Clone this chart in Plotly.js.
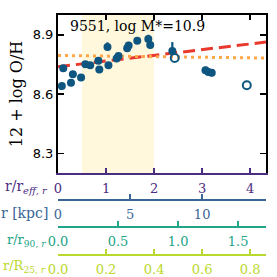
<!DOCTYPE html>
<html>
<head>
<meta charset="utf-8">
<script src="https://cdn.plot.ly/plotly-3.0.1.min.js"></script>
<style>html,body{margin:0;padding:0;background:#fff;}#chart{width:277px;height:277px;}</style>
</head>
<body>
<div id="chart"></div>
<script>
// radius in units of r_eff
const radius = [0.08, 0.11, 0.27, 0.31, 0.48, 0.57, 0.67, 0.84, 0.86, 1.03, 1.05, 1.22, 1.26, 1.44, 1.47, 1.65, 1.88, 1.92, 2.38, 3.07, 3.13, 3.20];
const oh = [8.640, 8.731, 8.657, 8.700, 8.683, 8.751, 8.745, 8.768, 8.724, 8.838, 8.745, 8.780, 8.792, 8.832, 8.846, 8.870, 8.878, 8.848, 8.818, 8.720, 8.712, 8.707];
const ohErrUp = [0.012, 0.012, 0.012, 0.012, 0.012, 0.012, 0.012, 0.015, 0.012, 0.024, 0.012, 0.016, 0.016, 0.018, 0.018, 0.015, 0.022, 0.016, 0.045, 0.018, 0.018, 0.018];
const ohErrDown = [0.012, 0.012, 0.012, 0.012, 0.012, 0.012, 0.012, 0.015, 0.012, 0.018, 0.012, 0.016, 0.016, 0.018, 0.018, 0.015, 0.018, 0.016, 0.015, 0.018, 0.018, 0.018];
const openRadius = [2.43, 3.93];
const openOh = [8.782, 8.644];
const fitX = [0, 4.33];
const fitY = [8.738, 8.863];
const meanX = [0, 4.33];
const meanY = [8.795, 8.782];
const bandX = [0.5, 2.0];
const xMax = 4.33;
const reffKpc = 3.333;
const r90Reff = 2.5;
const r25Reff = 5.0;
const galaxyLabel = '9551, log M*=10.9';

const cPurple = '#4b2d7f', cBlue = '#3a6696', cTeal = '#22a487', cLime = '#b9d92c';
const cPt = '#0e5680';
const serif = '"DejaVu Serif", serif';
const H = 277, T = 15;
const ph = H - T;
const pos = ypx => (H - ypx) / ph;

const traces = [
  {x: fitX, y: fitY, mode: 'lines', line: {color: '#e8392c', width: 3, dash: '12px,6px'}, hoverinfo: 'skip', showlegend: false},
  {x: meanX, y: meanY, mode: 'lines', line: {color: '#ffa54a', width: 3, dash: '3px,4px'}, hoverinfo: 'skip', showlegend: false},
  {x: radius, y: oh, mode: 'markers', marker: {color: cPt, size: 8},
   error_y: {type: 'data', symmetric: false, array: ohErrUp, arrayminus: ohErrDown, color: cPt, thickness: 2.2, width: 0}, showlegend: false},
  {x: openRadius, y: openOh, mode: 'markers', marker: {color: cPt, size: 8, symbol: 'circle-open', line: {width: 2, color: cPt}}, showlegend: false},
  {x: [], y: [], xaxis: 'x2', yaxis: 'y', showlegend: false},
  {x: [], y: [], xaxis: 'x3', yaxis: 'y', showlegend: false},
  {x: [], y: [], xaxis: 'x4', yaxis: 'y', showlegend: false},
  {x: [], y: [], xaxis: 'x5', yaxis: 'y', showlegend: false}
];

function freeAxis(range, dtick, color, position, fmt) {
  return {range: range, dtick: dtick, tick0: 0, anchor: 'free', overlaying: 'x', position: position, side: 'bottom',
    showline: true, linecolor: color, linewidth: 2, ticks: 'inside', ticklen: 5, tickwidth: 2, tickcolor: color,
    showgrid: false, zeroline: false, tickformat: fmt, ticklabelstandoff: 2,
    tickfont: {family: serif, size: 13, color: color}};
}

const layout = {
  width: 277, height: 277,
  margin: {l: 58, r: 11, t: T, b: 0},
  paper_bgcolor: '#fff', plot_bgcolor: '#fff',
  showlegend: false,
  xaxis: {range: [0, xMax], dtick: 1, tick0: 0, showline: true, linecolor: cPurple, linewidth: 2,
    ticks: 'inside', ticklen: 5, tickwidth: 2, tickcolor: cPurple, showgrid: false, zeroline: false,
    tickfont: {family: serif, size: 13, color: cPurple}, anchor: 'y', ticklabelstandoff: 2},
  xaxis2: freeAxis([0, xMax * reffKpc], 5, cBlue, pos(200), ''),
  xaxis3: freeAxis([0, xMax / r90Reff], 0.5, cTeal, pos(227), '.1f'),
  xaxis4: freeAxis([0, xMax / r25Reff], 0.2, cLime, pos(255), '.1f'),
  xaxis5: {range: [0, xMax], dtick: 1, tick0: 0, overlaying: 'x', side: 'top', anchor: 'y', showline: true,
    linecolor: '#000', linewidth: 2, ticks: 'inside', ticklen: 5, tickwidth: 1.5, tickcolor: '#000',
    showticklabels: false, showgrid: false, zeroline: false},
  yaxis: {domain: [pos(173), 1], range: [8.2, 9.0], dtick: 0.3, tick0: 8.3, tickformat: '.1f',
    showline: true, linecolor: '#000', linewidth: 2, mirror: 'ticks', ticks: 'inside', ticklen: 6, tickwidth: 1.5,
    tickcolor: '#000', showgrid: false, zeroline: false,
    tickfont: {family: 'DejaVu Sans', size: 13, color: '#000'},
    title: {text: '12 + log O/H', font: {family: serif, size: 16, color: '#000'}, standoff: 6}},
  shapes: [
    {type: 'rect', xref: 'x', yref: 'y domain', x0: bandX[0], x1: bandX[1], y0: 0, y1: 1,
     fillcolor: '#fff8dd', line: {width: 0}, layer: 'below'}
  ],
  annotations: [
    {text: galaxyLabel, xref: 'paper', yref: 'paper', x: 0.05, y: pos(26), xanchor: 'left', yanchor: 'middle',
     showarrow: false, font: {family: serif, size: 14, color: '#000'}},
    {text: 'r/r<sub><i>eff, r</i></sub>', xref: 'paper', yref: 'paper', x: -0.04, y: pos(187), xanchor: 'right', yanchor: 'middle',
     showarrow: false, font: {family: serif, size: 14, color: cPurple}},
    {text: 'r [kpc]', xref: 'paper', yref: 'paper', x: -0.04, y: pos(213), xanchor: 'right', yanchor: 'middle',
     showarrow: false, font: {family: serif, size: 14, color: cBlue}},
    {text: 'r/r<sub>90, <i>r</i></sub>', xref: 'paper', yref: 'paper', x: -0.05, y: pos(240), xanchor: 'right', yanchor: 'middle',
     showarrow: false, font: {family: serif, size: 13, color: cTeal}},
    {text: 'r/R<sub>25, <i>r</i></sub>', xref: 'paper', yref: 'paper', x: -0.05, y: pos(266), xanchor: 'right', yanchor: 'middle',
     showarrow: false, font: {family: serif, size: 13, color: cLime}}
  ]
};

Plotly.newPlot('chart', traces, layout, {staticPlot: true, displayModeBar: false});
</script>
</body>
</html>
